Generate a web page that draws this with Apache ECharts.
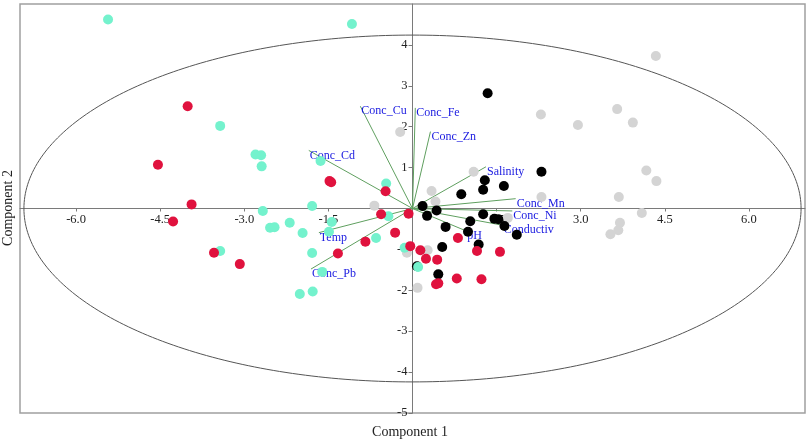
<!DOCTYPE html>
<html><head><meta charset="utf-8">
<script src="https://cdn.jsdelivr.net/npm/echarts@6/dist/echarts.min.js"></script>
<style>html,body{margin:0;padding:0;background:#fff}#c{width:809px;height:441px}</style>
</head><body><div id="c"></div>
<script>
// ---- data ----
const grayPoints = [[4.34,3.73],[3.65,2.43],[3.93,2.10],[2.95,2.04],[2.29,2.30],[4.17,0.93],[4.35,0.67],[3.68,0.28],[2.30,0.28],[1.09,0.90],[0.34,0.43],[0.41,0.17],[-0.22,1.87],[-0.68,0.07],[4.09,-0.11],[3.70,-0.35],[3.67,-0.53],[3.53,-0.63],[1.70,-0.23],[0.27,-1.02],[-0.10,-1.08],[0.09,-1.94]];
const blackPoints = [[1.34,2.82],[2.30,0.90],[1.29,0.69],[1.26,0.46],[1.63,0.55],[0.87,0.35],[0.18,0.06],[0.43,-0.05],[0.26,-0.18],[1.26,-0.14],[1.46,-0.25],[1.53,-0.26],[1.03,-0.31],[0.59,-0.45],[1.64,-0.43],[1.86,-0.64],[0.99,-0.57],[1.18,-0.88],[0.53,-0.94],[0.46,-1.61],[0.08,-1.41]];
const cyanPoints = [[-5.43,4.62],[-1.08,4.51],[-3.43,2.02],[-2.80,1.32],[-2.70,1.30],[-2.69,1.03],[-1.64,1.16],[-0.47,0.61],[-1.79,0.06],[-2.67,-0.06],[-2.54,-0.47],[-2.46,-0.46],[-2.19,-0.35],[-1.96,-0.60],[-1.44,-0.33],[-1.49,-0.57],[-0.43,-0.19],[-0.65,-0.72],[-3.43,-1.04],[-1.79,-1.09],[-1.61,-1.55],[-2.01,-2.09],[-1.78,-2.03],[-0.14,-0.96],[0.10,-1.43]];
const redPoints = [[-4.01,2.50],[-4.54,1.07],[-1.48,0.67],[-1.45,0.64],[-0.48,0.42],[-3.94,0.10],[-0.56,-0.14],[-0.07,-0.13],[-4.27,-0.32],[-3.54,-1.08],[-3.08,-1.36],[-1.33,-1.10],[-0.84,-0.81],[-0.31,-0.59],[-0.04,-0.92],[0.14,-1.02],[0.24,-1.23],[0.44,-1.25],[0.42,-1.85],[0.46,-1.83],[0.79,-1.71],[1.23,-1.73],[0.81,-0.72],[1.15,-1.04],[1.56,-1.06]];
const loadingNames = ['Conc_Cu','Conc_Fe','Conc_Zn','Conc_Cd','Salinity','Conc_Mn','Conc_Ni','Conductiv','pH','Temp','Conc_Pb'];
const loadingX = [-0.93,0.05,0.32,-1.85,1.31,1.84,1.78,1.61,0.96,-1.67,-1.81];
const loadingY = [2.50,2.46,1.88,1.42,1.02,0.24,-0.06,-0.41,-0.55,-0.59,-1.48];
const ellipseRadii = [6.93, 4.24];
const xTickValues = [-6,-4.5,-3,-1.5,1.5,3,4.5,6];
const yTickValues = [-5,-4,-3,-2,-1,1,2,3,4];
const yTickMarks = [-5,-4,-3,-2,-1,0,1,2,3,4];
const xRange = [-7, 7];
const yRange = [-5, 5];

const FONT = "'Liberation Serif','Times New Roman',serif";
const W = 809, H = 441;
const G = { left: 20, right: 4, top: 4, bottom: 28 };
const gridW = W - G.left - G.right, gridH = H - G.top - G.bottom;
// distance of the zero lines from the grid's bottom / left edges, through the axis ranges
const xAxisOffset = -gridH * (0 - yRange[0]) / (yRange[1] - yRange[0]);
const yAxisOffset = -gridW * (0 - xRange[0]) / (xRange[1] - xRange[0]);

const chart = echarts.init(document.getElementById('c'));

function scatter(name, data, color) {
  return {
    name, type: 'scatter', data, symbol: 'circle', symbolSize: 10,
    itemStyle: { color, opacity: 1 }, z: 3, silent: true
  };
}

const option = {
  animation: false,
  grid: { left: G.left, right: G.right, top: G.top, bottom: G.bottom, show: true, borderColor: '#a0a0a0', borderWidth: 1.5 },
  xAxis: {
    type: 'value', min: xRange[0], max: xRange[1], position: 'bottom', offset: xAxisOffset,
    axisLine: { onZero: false, lineStyle: { color: '#7a7a7a', width: 1 } },
    axisTick: { show: true, length: 3, customValues: xTickValues, lineStyle: { color: '#7a7a7a' } },
    axisLabel: { customValues: xTickValues, formatter: v => Number(v).toFixed(1), margin: 5, fontFamily: FONT, fontSize: 12.5, color: '#222' },
    splitLine: { show: false }
  },
  yAxis: {
    type: 'value', min: yRange[0], max: yRange[1], position: 'left', offset: yAxisOffset,
    axisLine: { onZero: false, lineStyle: { color: '#7a7a7a', width: 1 } },
    axisTick: { show: true, length: 4, customValues: yTickMarks, lineStyle: { color: '#7a7a7a' } },
    axisLabel: { customValues: yTickValues, formatter: v => String(v), margin: 5, fontFamily: FONT, fontSize: 12.5, color: '#222' },
    splitLine: { show: false }
  },
  graphic: [
    { type: 'text', x: 410, y: 432, style: { text: 'Component 1', font: '14px ' + FONT, fill: '#222', align: 'center', verticalAlign: 'middle' } },
    { type: 'text', x: 8, y: 208, rotation: Math.PI / 2, style: { text: 'Component 2', font: '14px ' + FONT, fill: '#222', align: 'center', verticalAlign: 'middle' } }
  ],
  series: [
    {
      type: 'custom', name: 'ellipse', silent: true, z: 1,
      data: [[0, 0, ellipseRadii[0], ellipseRadii[1]]],
      renderItem: function (params, api) {
        const a = api.value(2), b = api.value(3);
        const pts = [];
        for (let i = 0; i <= 360; i++) {
          const t = i * Math.PI / 180;
          pts.push(api.coord([a * Math.cos(t), b * Math.sin(t)]));
        }
        return { type: 'polyline', shape: { points: pts }, style: { stroke: '#555', lineWidth: 1, fill: null } };
      }
    },
    {
      type: 'custom', name: 'loadings', silent: true, z: 2,
      data: loadingX.map((x, i) => [x, loadingY[i]]),
      renderItem: function (params, api) {
        const p0 = api.coord([0, 0]);
        const p1 = api.coord([api.value(0), api.value(1)]);
        return {
          type: 'group',
          children: [
            { type: 'line', shape: { x1: p0[0], y1: p0[1], x2: p1[0], y2: p1[1] }, style: { stroke: '#5f9f5f', lineWidth: 1 } },
            { type: 'text', x: p1[0] + 1, y: p1[1] - 1, z2: 100, style: { text: loadingNames[params.dataIndex], font: '12px ' + FONT, fill: '#1a1ae0', align: 'left', verticalAlign: 'top' } }
          ]
        };
      }
    },
    scatter('gray', grayPoints, '#d4d4d4'),
    scatter('black', blackPoints, '#000000'),
    scatter('cyan', cyanPoints, '#74f2cd'),
    scatter('red', redPoints, '#e0123e')
  ]
};
chart.setOption(option);
</script>
</body></html>
